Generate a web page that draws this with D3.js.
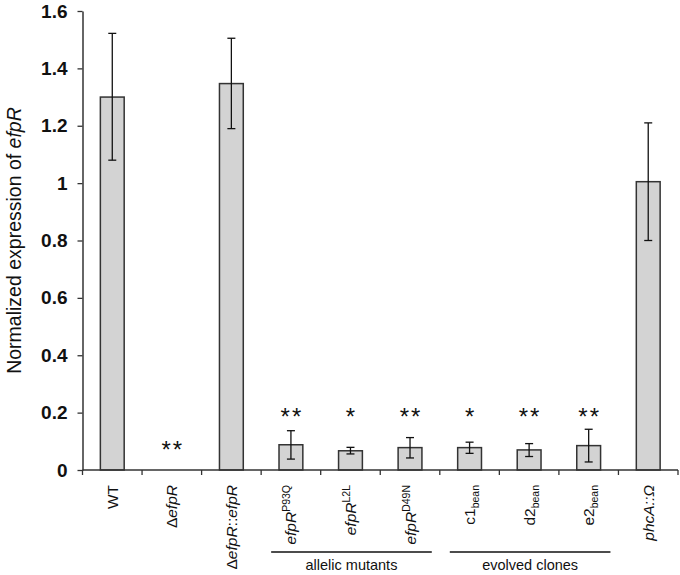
<!DOCTYPE html>
<html><head><meta charset="utf-8">
<script src="https://cdn.jsdelivr.net/npm/d3@7"></script>
<style>
body{margin:0;background:#fff;}
svg{display:block;font-family:"Liberation Sans",Arial,Helvetica,sans-serif;}
</style></head>
<body><svg id="c" width="680" height="575"></svg>
<script>
// ---- data ----
const categories = ["WT","dEfpR","comp","P93Q","L2L","D49N","c1","d2","e2","phcA"];
const values     = [1.30, 0.0, 1.347, 0.088, 0.067, 0.078, 0.078, 0.070, 0.085, 1.005];
const errHigh    = [1.522, 0.0, 1.505, 0.137, 0.079, 0.113, 0.097, 0.092, 0.142, 1.210];
const errLow     = [1.080, 0.0, 1.190, 0.038, 0.056, 0.042, 0.058, 0.047, 0.028, 0.800];
const stars      = ["", "**", "", "**", "*", "**", "*", "**", "**", ""];
const starLevel  = [null, 0.09, null, 0.205, 0.205, 0.205, 0.205, 0.205, 0.205, null];
const yTicks     = [0, 0.2, 0.4, 0.6, 0.8, 1, 1.2, 1.4, 1.6];
// label parts: [text, style] style: n normal, i italic, sup, sub
const labelParts = [
  [["WT","n"]],
  [["\u0394","n"],["efpR","i"]],
  [["\u0394","n"],["efpR","i"],["::","n"],["efpR","i"]],
  [["efpR","i"],["P93Q","sup"]],
  [["efpR","i"],["L2L","sup"]],
  [["efpR","i"],["D49N","sup"]],
  [["c1","n"],["bean","sub"]],
  [["d2","n"],["bean","sub"]],
  [["e2","n"],["bean","sub"]],
  [["phcA::\u03A9","i"]]
];
const groups = [
  {name:"allelic mutants", from:"P93Q", to:"D49N"},
  {name:"evolved clones", from:"c1", to:"e2"}
];

// ---- layout ----
const svg = d3.select("#c");
const mLeft = 82.5, mRight = 678, mTop = 11, mBottom = 470;
const x = d3.scaleBand().domain(categories).range([mLeft, mRight]).paddingInner(0.6).paddingOuter(0.3);
const y = d3.scaleLinear().domain([0, 1.6]).range([mBottom, mTop]);
const step = x.step();
const bandStart = c => x(c) - x.paddingInner()*step/2;

// y axis
const yAxis = svg.append("g").attr("transform",`translate(${mLeft},0)`)
  .call(d3.axisLeft(y).tickValues(yTicks).tickFormat(d=>d3.format("")(d)).tickSize(5).tickSizeOuter(0).tickPadding(10));
yAxis.select(".domain").attr("stroke","#333").attr("stroke-width",1.5);
yAxis.selectAll(".tick line").attr("stroke","#333").attr("stroke-width",1.3);
yAxis.selectAll(".tick text").attr("font-size",19).attr("font-weight","bold").attr("fill","#111")
  .attr("font-family","'Liberation Sans',Arial,sans-serif");

// y label
svg.append("text").attr("transform",`translate(21,${(mTop+mBottom)/2}) rotate(-90)`)
  .attr("text-anchor","middle").attr("font-size",19.5).attr("fill","#111")
  .call(t=>{t.append("tspan").text("Normalized expression of ");t.append("tspan").attr("font-style","italic").text("efpR");});

// bars
svg.append("g").selectAll("rect").data(categories).join("rect")
  .attr("x",d=>x(d)).attr("width",x.bandwidth())
  .attr("y",(d,i)=>y(values[i])).attr("height",(d,i)=>y(0)-y(values[i]))
  .attr("fill","#d3d3d3").attr("stroke","#333").attr("stroke-width",1.5);

// error bars
const eg = svg.append("g").attr("stroke","#111").attr("stroke-width",1.3);
categories.forEach((c,i)=>{
  if(errHigh[i]===errLow[i]) return;
  const cx = x(c)+x.bandwidth()/2;
  eg.append("line").attr("x1",cx).attr("x2",cx).attr("y1",y(errHigh[i])).attr("y2",y(errLow[i]));
  [errHigh[i],errLow[i]].forEach(v=>eg.append("line").attr("x1",cx-4).attr("x2",cx+4).attr("y1",y(v)).attr("y2",y(v)));
});

// x axis line and ticks
svg.append("line").attr("x1",mLeft).attr("x2",mRight).attr("y1",mBottom).attr("y2",mBottom).attr("stroke","#333").attr("stroke-width",1.5);
const bounds = categories.map(c=>bandStart(c)).concat([mRight]);
svg.append("g").selectAll("line").data(bounds).join("line")
  .attr("x1",d=>d).attr("x2",d=>d).attr("y1",mBottom).attr("y2",mBottom+5).attr("stroke","#333").attr("stroke-width",1.3);

// stars
svg.append("g").selectAll("text").data(categories).join("text")
  .attr("x",d=>x(d)+x.bandwidth()/2+1).attr("y",(d,i)=>starLevel[i]==null?0:y(starLevel[i])+14)
  .attr("text-anchor","middle").attr("font-size",24).attr("letter-spacing",2).attr("fill","#111")
  .text((d,i)=>stars[i]);

// x labels
categories.forEach((c,i)=>{
  const cx = x(c)+x.bandwidth()/2;
  const t = svg.append("text").attr("transform",`translate(${cx+5.5},${mBottom+15}) rotate(-90)`)
    .attr("text-anchor","end").attr("font-size",15.5).attr("fill","#111");
  labelParts[i].forEach(([s,st])=>{
    const ts = t.append("tspan").text(s);
    if(st==="i") ts.attr("font-style","italic");
    if(st==="sup") ts.attr("font-size",10.5).attr("dy",-6);
    if(st==="sub") ts.attr("font-size",10.5).attr("dy",4);
  });
});

// group lines
groups.forEach(g=>{
  const x1 = bandStart(g.from)+10, x2 = bandStart(g.to)+step-8;
  svg.append("line").attr("x1",x1).attr("x2",x2).attr("y1",552).attr("y2",552).attr("stroke","#111").attr("stroke-width",1.3);
  svg.append("text").attr("x",(x1+x2)/2).attr("y",570).attr("text-anchor","middle").attr("font-size",14.5).attr("fill","#111").text(g.name);
});
</script></body></html>
